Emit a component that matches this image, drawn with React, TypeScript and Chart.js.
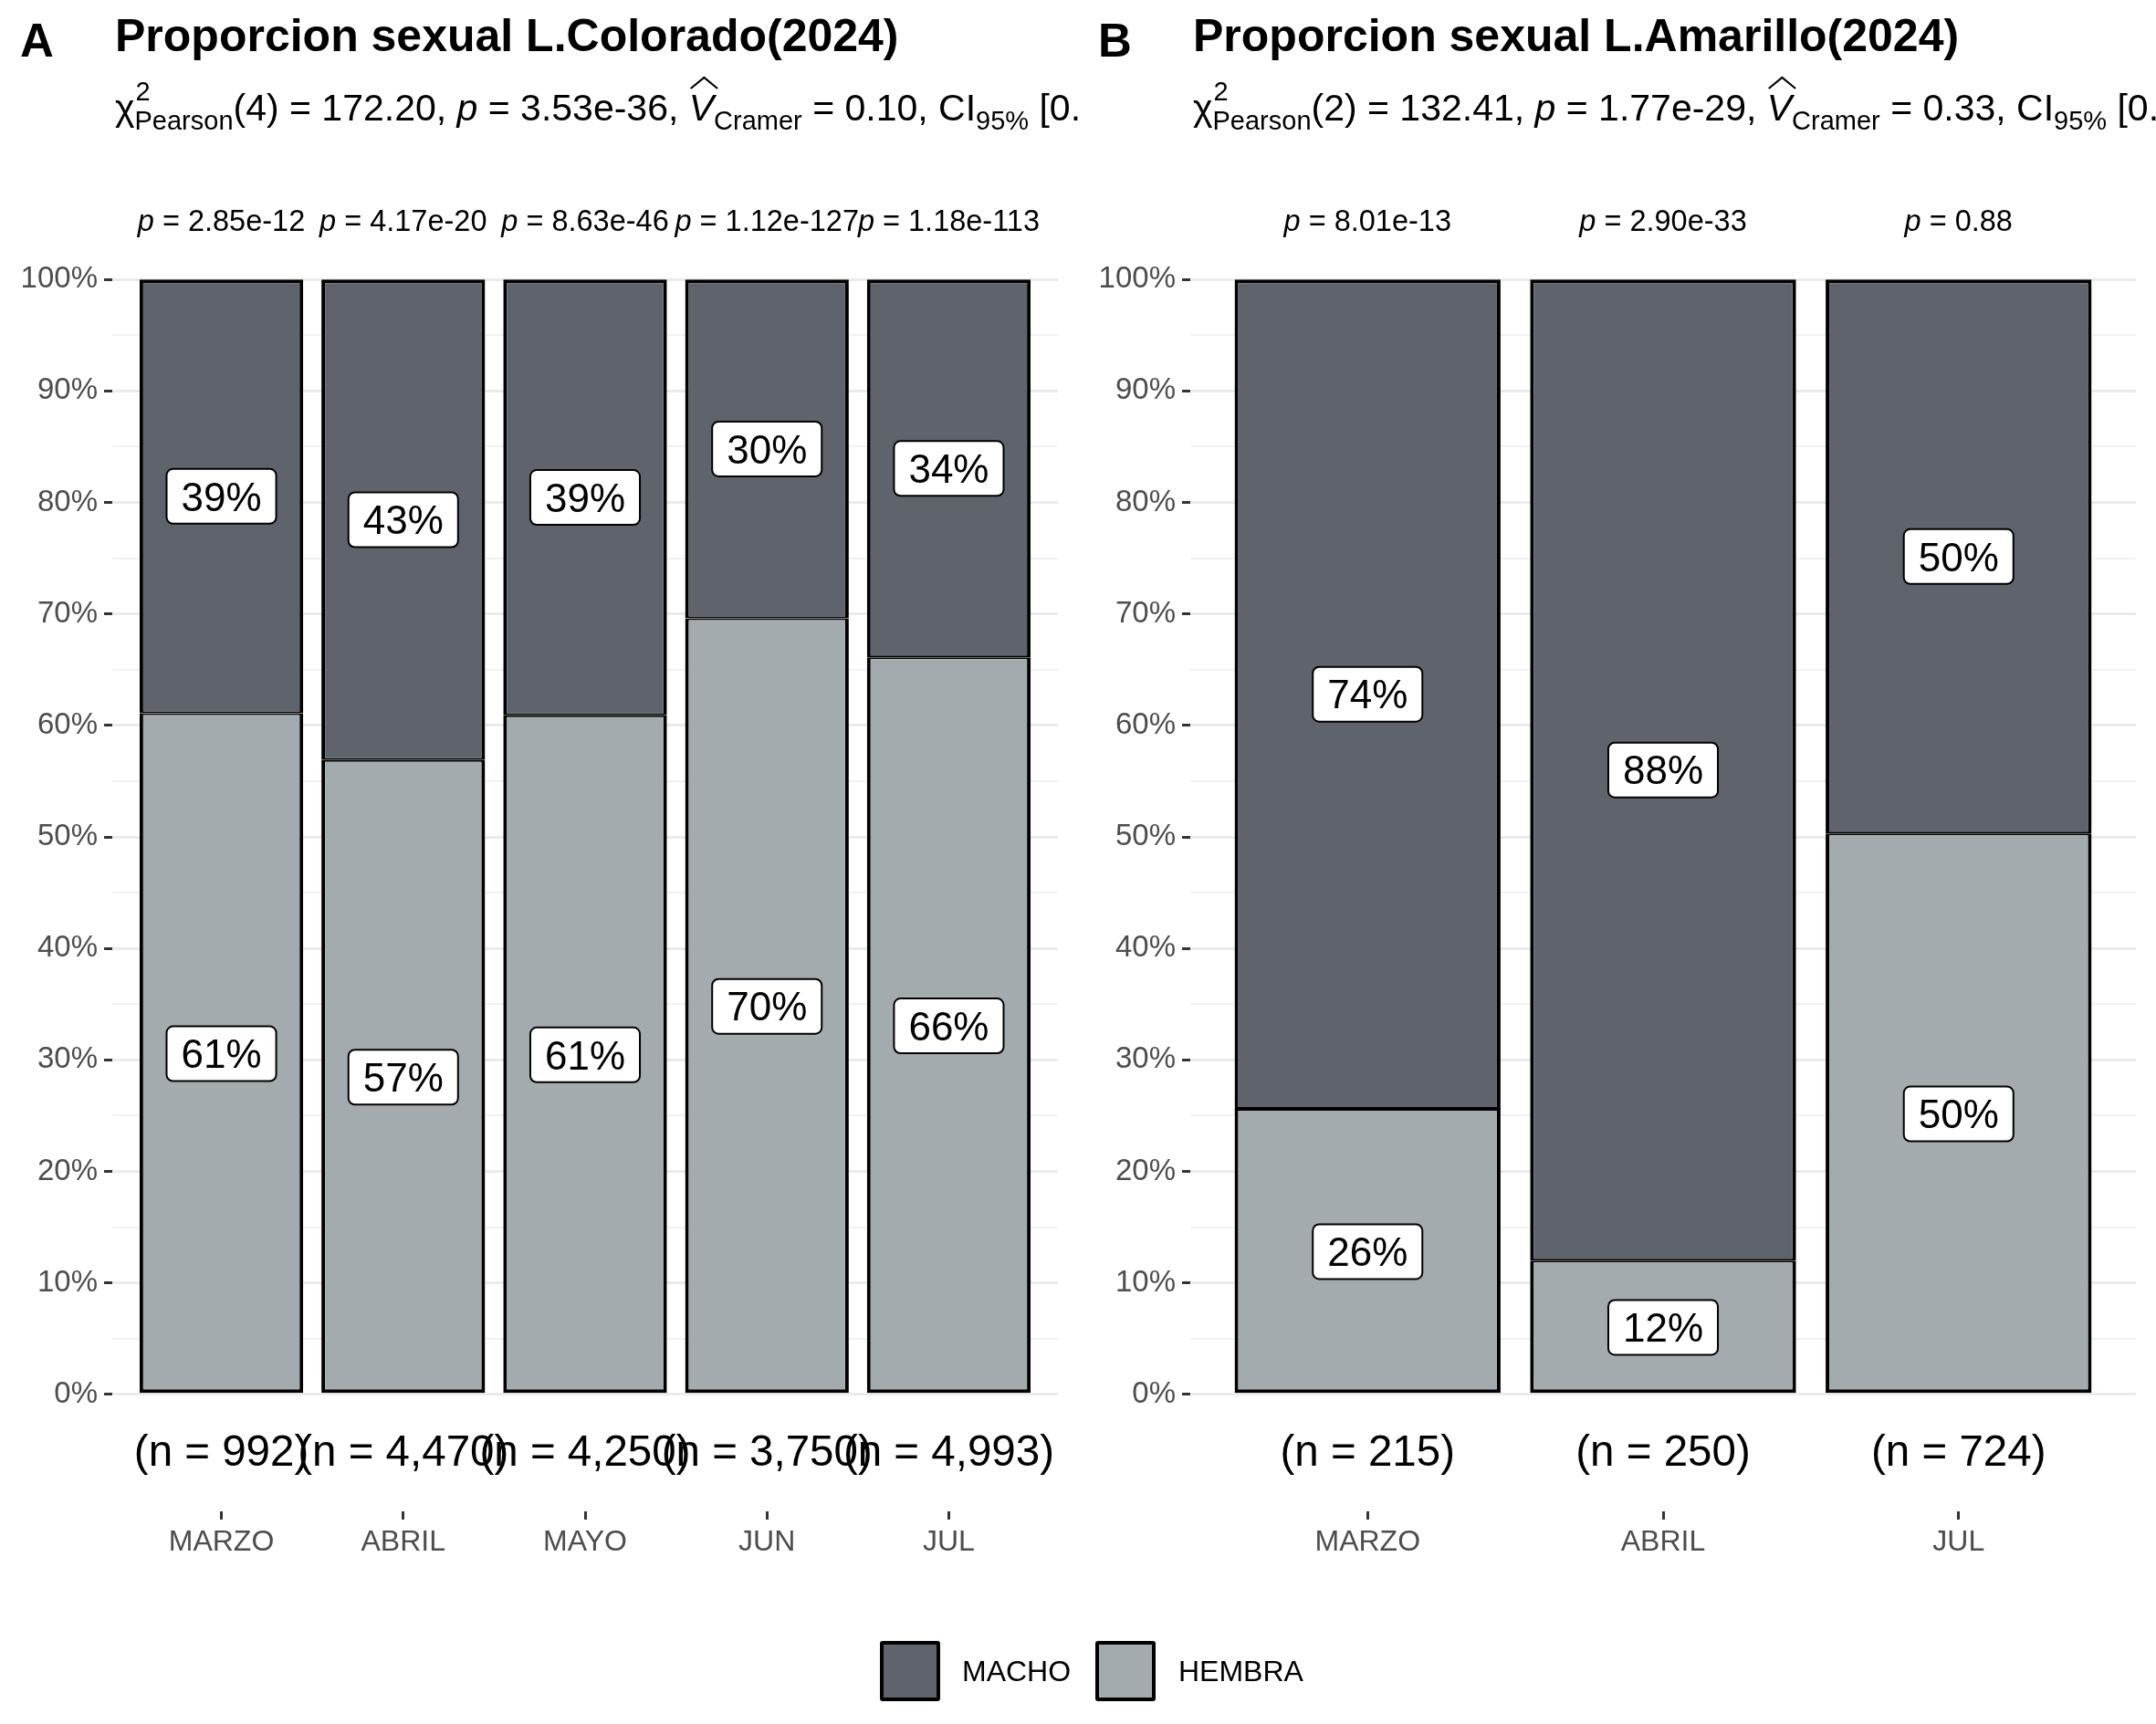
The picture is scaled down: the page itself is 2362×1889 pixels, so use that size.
import React, { useEffect, useRef } from 'react';
import { Chart, registerables } from 'chart.js';
Chart.register(...registerables);

const FONT = '"Liberation Sans", Arial, Helvetica, sans-serif';
const MACHO_COLOR = '#5F636B';
const HEMBRA_COLOR = '#A4ABAE';

// Panel A data
const monthsA = ['MARZO', 'ABRIL', 'MAYO', 'JUN', 'JUL'];
const hembraA = [61.1, 56.9, 60.9, 69.6, 66.1];
const machoA = [38.9, 43.1, 39.1, 30.4, 33.9];
const pValuesA = ['2.85e-12', '4.17e-20', '8.63e-46', '1.12e-127', '1.18e-113'];
const nA = ['992', '4,470', '4,250', '3,750', '4,993'];
const statsA = ['4', '172.20', '3.53e-36', '0.10', '[0.09, 1.00]', '18,455'];

// Panel B data
const monthsB = ['MARZO', 'ABRIL', 'JUL'];
const hembraB = [25.6, 12.0, 50.3];
const machoB = [74.4, 88.0, 49.7];
const pValuesB = ['8.01e-13', '2.90e-33', '0.88'];
const nB = ['215', '250', '724'];
const statsB = ['2', '132.41', '1.77e-29', '0.33', '[0.28, 1.00]', '1,189'];

const yBreaks = [0, 0.05, 0.1, 0.15, 0.2, 0.25, 0.3, 0.35, 0.4, 0.45, 0.5, 0.55, 0.6, 0.65, 0.7, 0.75, 0.8, 0.85, 0.9, 0.95, 1];

const W = 1181;
const H = 1889;

type PanelProps = {
  letter: string;
  title: string;
  stats: string[];
  cats: string[];
  hembra: number[];
  macho: number[];
  pvals: string[];
  ns: string[];
  left: number;
};

function drawSubtitle(ctx: CanvasRenderingContext2D, x0: number, y: number, s: string[]) {
  const main = `41px ${FONT}`;
  const ital = `italic 41px ${FONT}`;
  const sub = `29px ${FONT}`;
  let cx = x0;
  ctx.textAlign = 'left';
  ctx.textBaseline = 'alphabetic';
  ctx.fillStyle = '#000';
  const put = (t: string, f: string, dy = 0) => {
    ctx.font = f;
    ctx.fillText(t, cx, y + dy);
    cx += ctx.measureText(t).width;
  };
  put('χ', main);
  ctx.font = sub;
  ctx.fillText('2', cx + 1, y - 22);
  put('Pearson', sub, 10);
  put(`(${s[0]}) = ${s[1]}, `, main);
  put('p', ital);
  put(` = ${s[2]}, `, main);
  ctx.font = ital;
  const vw = ctx.measureText('V').width;
  const vx = cx;
  put('V', ital);
  ctx.beginPath();
  ctx.lineWidth = 2.2;
  ctx.strokeStyle = '#000';
  ctx.moveTo(vx + 2, y - 35);
  ctx.lineTo(vx + vw / 2 + 3, y - 47);
  ctx.lineTo(vx + vw + 4, y - 35);
  ctx.stroke();
  put('Cramer', sub, 10);
  put(` = ${s[3]}, CI`, main);
  put('95%', sub, 10);
  put(` ${s[4]}, `, main);
  put('n', ital);
  put('obs', sub, 10);
  put(` = ${s[5]}`, main);
}

function Panel(props: PanelProps) {
  const ref = useRef<HTMLCanvasElement>(null);
  useEffect(() => {
    const canvas = ref.current!;
    const n = props.cats.length;
    const isMajor = (v: number) => Math.round(v * 100) % 10 === 0;

    const overlay = {
      id: 'overlay',
      afterDatasetsDraw(chart: any) {
        const ctx: CanvasRenderingContext2D = chart.ctx;
        const xs = chart.scales.x;
        const ys = chart.scales.y;
        ctx.save();
        const fs = 44;
        ctx.font = `${fs}px ${FONT}`;
        ctx.textAlign = 'center';
        ctx.textBaseline = 'alphabetic';
        props.cats.forEach((_, i) => {
          const h = props.hembra[i] / 100;
          const m = props.macho[i] / 100;
          const items: [number, number][] = [
            [h / 2, Math.round(props.hembra[i])],
            [h + m / 2, Math.round(props.macho[i])],
          ];
          for (const [mid, lab] of items) {
            const txt = `${lab}%`;
            const cx = xs.getPixelForValue(i);
            const cy = ys.getPixelForValue(mid);
            const tw = ctx.measureText(txt).width;
            const bw = tw + 32;
            const bh = 60;
            ctx.beginPath();
            (ctx as any).roundRect(cx - bw / 2, cy - bh / 2, bw, bh, 7);
            ctx.fillStyle = '#ffffff';
            ctx.fill();
            ctx.lineWidth = 2;
            ctx.strokeStyle = '#000';
            ctx.stroke();
            ctx.fillStyle = '#000';
            ctx.fillText(txt, cx, cy + fs * 0.716 / 2);
          }
        });
        const pf = 32.5;
        props.pvals.forEach((pv, i) => {
          const cx = xs.getPixelForValue(i);
          const cy = ys.getPixelForValue(1.05) + pf * 0.716 / 2 - 4;
          ctx.font = `italic ${pf}px ${FONT}`;
          const w1 = ctx.measureText('p').width;
          ctx.font = `${pf}px ${FONT}`;
          const rest = ` = ${pv}`;
          const w2 = ctx.measureText(rest).width;
          const sx = cx - (w1 + w2) / 2;
          ctx.textAlign = 'left';
          ctx.fillStyle = '#000';
          ctx.font = `italic ${pf}px ${FONT}`;
          ctx.fillText('p', sx, cy);
          ctx.font = `${pf}px ${FONT}`;
          ctx.fillText(rest, sx + w1, cy);
        });
        const nf = 47.5;
        ctx.font = `${nf}px ${FONT}`;
        ctx.textAlign = 'center';
        props.ns.forEach((nv, i) => {
          const cx = xs.getPixelForValue(i);
          const cy = ys.getPixelForValue(-0.05) + nf * 0.716 / 2;
          ctx.fillText(`(n = ${nv})`, cx, cy);
        });
        ctx.restore();
      },
      afterDraw(chart: any) {
        const ctx: CanvasRenderingContext2D = chart.ctx;
        ctx.save();
        ctx.fillStyle = '#000';
        ctx.textAlign = 'left';
        ctx.textBaseline = 'alphabetic';
        ctx.font = `bold 51px ${FONT}`;
        ctx.fillText(props.letter, 22, 62);
        ctx.font = `bold 50px ${FONT}`;
        ctx.fillText(props.title, 126, 56);
        drawSubtitle(ctx, 126, 132, props.stats);
        ctx.restore();
      },
    };

    const chart = new Chart(canvas, {
      type: 'bar',
      data: {
        datasets: [
          {
            label: 'HEMBRA',
            data: props.hembra.map((v, i) => ({ x: i, y: v / 100 })),
            backgroundColor: HEMBRA_COLOR,
            borderColor: '#000',
            borderWidth: { top: 2, bottom: 4, left: 4, right: 4 },
            borderSkipped: false,
            barPercentage: 0.9,
            categoryPercentage: 1,
          },
          {
            label: 'MACHO',
            data: props.macho.map((v, i) => ({ x: i, y: v / 100 })),
            backgroundColor: MACHO_COLOR,
            borderColor: '#000',
            borderWidth: { top: 4, bottom: 2, left: 4, right: 4 },
            borderSkipped: false,
            barPercentage: 0.9,
            categoryPercentage: 1,
          },
        ],
      } as any,
      options: {
        animation: false,
        responsive: false,
        layout: { padding: { top: 178, right: 22, bottom: 0, left: 0 } },
        plugins: { legend: { display: false }, tooltip: { enabled: false } },
        scales: {
          x: {
            type: 'linear',
            stacked: true,
            offset: false,
            min: -0.6,
            max: n - 1 + 0.6,
            afterBuildTicks: (s: any) => {
              s.ticks = props.cats.map((_, i) => ({ value: i }));
            },
            afterFit: (s: any) => {
              s.height = 233;
            },
            ticks: {
              autoSkip: false,
              maxRotation: 0,
              padding: 6,
              color: '#4D4D4D',
              font: { size: 32, family: FONT },
              callback: (_v: any, idx: number) => props.cats[idx],
            },
            grid: {
              offset: false,
              drawOnChartArea: false,
              color: 'rgba(0,0,0,0)',
              tickColor: '#333333',
              tickLength: 9,
              tickWidth: 3,
            },
            border: { display: false },
          },
          y: {
            type: 'linear',
            stacked: true,
            min: -0.105,
            max: 1.105,
            afterBuildTicks: (s: any) => {
              s.ticks = yBreaks.map((v) => ({ value: v }));
            },
            afterFit: (s: any) => {
              s.width = 123;
            },
            ticks: {
              autoSkip: false,
              padding: 7,
              color: '#4D4D4D',
              font: { size: 33, family: FONT },
              callback: (v: any) => (isMajor(v) ? `${Math.round(v * 100)}%` : ''),
            },
            grid: {
              color: (c: any) => (isMajor(c.tick.value) ? '#EBEBEB' : '#F2F2F2'),
              lineWidth: (c: any) => (isMajor(c.tick.value) ? 3 : 2),
              tickColor: (c: any) => (isMajor(c.tick.value) ? '#333333' : 'rgba(0,0,0,0)'),
              tickLength: 9,
              tickWidth: 3,
            },
            border: { display: false },
          },
        },
      } as any,
      plugins: [overlay],
    });
    return () => chart.destroy();
  }, []);
  return (
    <canvas
      ref={ref}
      width={W}
      height={H}
      style={{ position: 'absolute', left: props.left, top: 0, width: W, height: H }}
    />
  );
}

function LegendItem({ color, label, boxLeft, textLeft }: { color: string; label: string; boxLeft: number; textLeft: number }) {
  return (
    <>
      <div
        style={{
          position: 'absolute',
          left: boxLeft,
          top: 1798,
          width: 66,
          height: 66,
          boxSizing: 'border-box',
          border: '4px solid #000',
          borderRadius: 3,
          background: color,
        }}
      />
      <div
        style={{
          position: 'absolute',
          left: textLeft,
          top: 1831 - 20,
          height: 40,
          lineHeight: '40px',
          fontFamily: FONT,
          fontSize: 32,
          color: '#000',
          whiteSpace: 'nowrap',
        }}
      >
        {label}
      </div>
    </>
  );
}

export default function App() {
  return (
    <div style={{ position: 'absolute', left: 0, top: 0, width: 2362, height: 1889, background: '#fff', overflow: 'hidden' }}>
      <Panel
        letter="A"
        title="Proporcion sexual L.Colorado(2024)"
        stats={statsA}
        cats={monthsA}
        hembra={hembraA}
        macho={machoA}
        pvals={pValuesA}
        ns={nA}
        left={0}
      />
      <Panel
        letter="B"
        title="Proporcion sexual L.Amarillo(2024)"
        stats={statsB}
        cats={monthsB}
        hembra={hembraB}
        macho={machoB}
        pvals={pValuesB}
        ns={nB}
        left={W}
      />
      <LegendItem color={MACHO_COLOR} label="MACHO" boxLeft={964} textLeft={1054} />
      <LegendItem color={HEMBRA_COLOR} label="HEMBRA" boxLeft={1200} textLeft={1291} />
    </div>
  );
}
